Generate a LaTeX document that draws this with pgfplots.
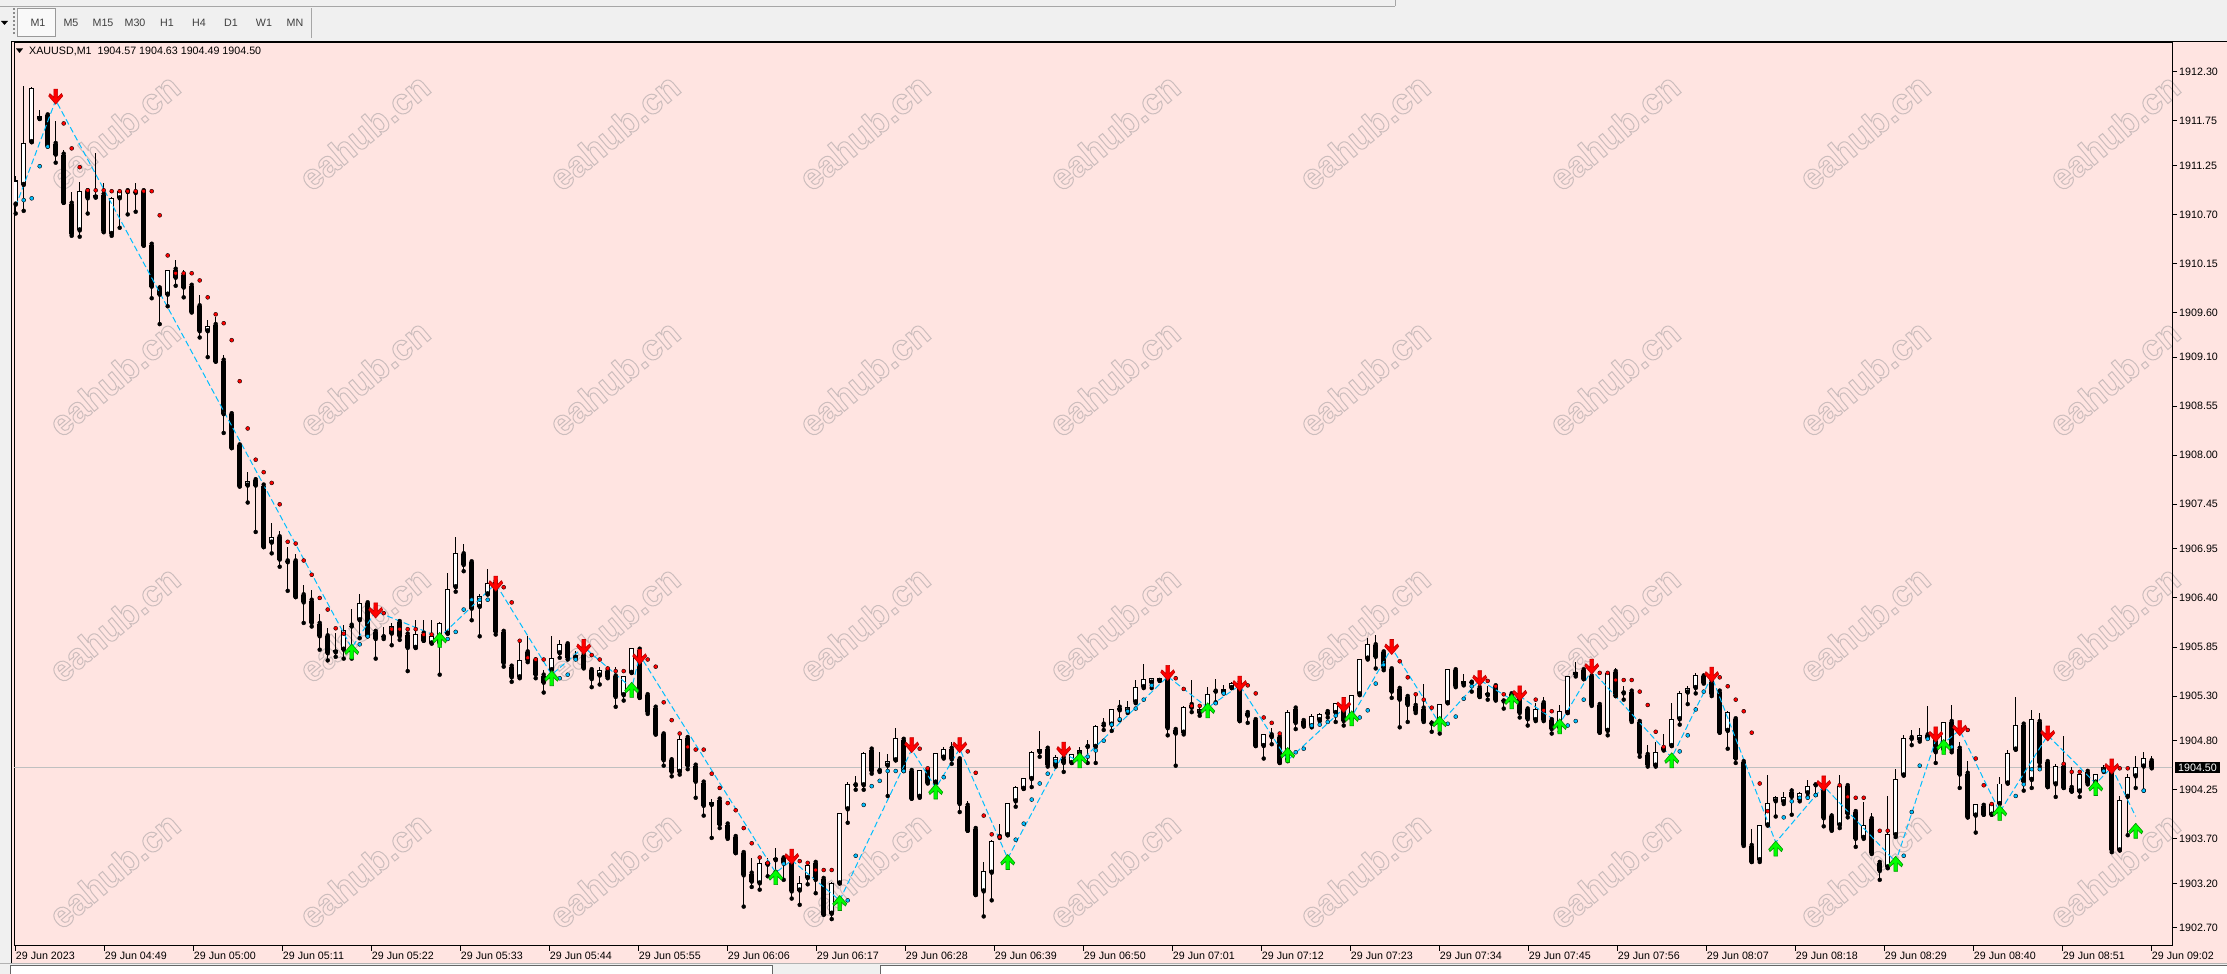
\documentclass[border=0pt]{standalone}
\usepackage{pgfplots}
\pgfplotsset{compat=1.18}
\usepackage{pgfplotstable}
\usepackage{fontspec}
\setmainfont{Liberation Sans}
\definecolor{pinkbg}{RGB}{255,228,225}
\definecolor{winbg}{RGB}{240,240,240}
\definecolor{skyb}{RGB}{0,191,255}
\definecolor{wmcol}{RGB}{255,228,225}
\definecolor{arrgreen}{RGB}{0,255,0}
\definecolor{arrgreend}{RGB}{0,150,0}
\definecolor{arrred}{RGB}{255,0,0}
\definecolor{arrredd}{RGB}{190,0,0}
\definecolor{bidline}{RGB}{192,192,192}
\newcommand\lblfont{\fontsize{10.7}{12.8}\selectfont}
\newcommand\wmtext{\special{pdf:literal direct 1 Tr 1 w 0.80 0.74 0.74 RG}eahub.cn\special{pdf:literal direct 0 Tr}}

\pgfdeclareplotmark{dnarr}{%
 \pgfpathmoveto{\pgfqpoint{-1.9pt}{7.5pt}}%
 \pgfpathlineto{\pgfqpoint{1.9pt}{7.5pt}}%
 \pgfpathlineto{\pgfqpoint{1.9pt}{-0.6pt}}%
 \pgfpathlineto{\pgfqpoint{5.8pt}{3pt}}%
 \pgfpathlineto{\pgfqpoint{7pt}{0.6pt}}%
 \pgfpathlineto{\pgfqpoint{0pt}{-7.5pt}}%
 \pgfpathlineto{\pgfqpoint{-7pt}{0.6pt}}%
 \pgfpathlineto{\pgfqpoint{-5.8pt}{3pt}}%
 \pgfpathlineto{\pgfqpoint{-1.9pt}{-0.6pt}}%
 \pgfpathclose
 \pgfusepathqfillstroke}
\pgfdeclareplotmark{uparr}{%
 \pgfpathmoveto{\pgfqpoint{-1.9pt}{-7.5pt}}%
 \pgfpathlineto{\pgfqpoint{1.9pt}{-7.5pt}}%
 \pgfpathlineto{\pgfqpoint{1.9pt}{0.6pt}}%
 \pgfpathlineto{\pgfqpoint{5.8pt}{-3pt}}%
 \pgfpathlineto{\pgfqpoint{7pt}{-0.6pt}}%
 \pgfpathlineto{\pgfqpoint{0pt}{7.5pt}}%
 \pgfpathlineto{\pgfqpoint{-7pt}{-0.6pt}}%
 \pgfpathlineto{\pgfqpoint{-5.8pt}{-3pt}}%
 \pgfpathlineto{\pgfqpoint{-1.9pt}{0.6pt}}%
 \pgfpathclose
 \pgfusepathqfillstroke}

\pgfplotstableread{
i o h l c
0 1910.81 1911.13 1910.71 1911.08
1 1911.03 1912.14 1910.74 1911.50
2 1911.51 1912.13 1911.51 1912.12
3 1911.77 1911.87 1911.77 1911.80
4 1911.81 1911.83 1911.46 1911.47
5 1911.49 1911.75 1911.28 1911.37
6 1911.37 1911.42 1910.83 1910.83
7 1910.82 1910.95 1910.46 1910.48
8 1910.52 1911.06 1910.45 1910.96
9 1910.96 1910.98 1910.71 1910.88
10 1910.89 1911.39 1910.89 1910.92
11 1910.92 1911.05 1910.50 1910.51
12 1910.48 1910.89 1910.46 1910.88
13 1910.88 1910.98 1910.55 1910.96
14 1910.96 1910.96 1910.70 1910.95
15 1910.94 1911.05 1910.73 1910.93
16 1910.96 1910.99 1910.35 1910.35
17 1910.36 1910.37 1909.76 1909.89
18 1909.87 1909.91 1909.47 1909.80
19 1909.80 1910.08 1909.67 1910.08
20 1910.08 1910.19 1909.90 1909.99
21 1910.02 1910.08 1909.77 1909.88
22 1909.90 1909.90 1909.60 1909.61
23 1909.67 1909.80 1909.32 1909.39
24 1909.39 1909.52 1909.10 1909.45
25 1909.46 1909.55 1909.05 1909.05
26 1909.06 1909.12 1908.25 1908.46
27 1908.46 1908.48 1908.08 1908.08
28 1908.11 1908.11 1907.65 1907.65
29 1907.66 1907.81 1907.47 1907.71
30 1907.72 1907.76 1907.14 1907.66
31 1907.66 1907.68 1906.97 1906.97
32 1907.02 1907.24 1906.90 1907.08
33 1907.08 1907.15 1906.75 1906.83
34 1906.81 1906.97 1906.48 1906.80
35 1906.81 1906.89 1906.41 1906.41
36 1906.43 1906.55 1906.12 1906.35
37 1906.37 1906.49 1906.08 1906.12
38 1906.11 1906.22 1905.82 1905.97
39 1905.97 1906.06 1905.70 1905.78
40 1905.79 1906.01 1905.74 1905.82
41 1905.82 1906.10 1905.72 1906.04
42 1906.09 1906.28 1905.72 1906.08
43 1906.15 1906.44 1905.95 1906.34
44 1906.34 1906.36 1905.97 1905.97
45 1906.02 1906.04 1905.72 1905.94
46 1905.96 1906.07 1905.94 1905.96
47 1906.00 1906.12 1905.87 1906.09
48 1906.13 1906.15 1905.93 1905.97
49 1905.99 1905.99 1905.58 1905.84
50 1905.84 1906.15 1905.84 1906.00
51 1906.00 1906.15 1905.92 1905.92
52 1905.89 1906.15 1905.89 1905.97
53 1905.89 1906.13 1905.54 1906.12
54 1906.00 1906.68 1906.00 1906.50
55 1906.52 1907.08 1906.47 1906.90
56 1906.89 1907.00 1906.70 1906.77
57 1906.80 1906.80 1906.15 1906.28
58 1906.30 1906.45 1905.97 1906.42
59 1906.44 1906.73 1906.44 1906.57
60 1906.58 1906.61 1905.99 1906.02
61 1906.02 1906.02 1905.63 1905.67
62 1905.63 1905.63 1905.46 1905.51
63 1905.51 1905.91 1905.50 1905.71
64 1905.79 1905.97 1905.68 1905.70
65 1905.70 1905.72 1905.50 1905.54
66 1905.53 1905.59 1905.34 1905.45
67 1905.59 1905.97 1905.55 1905.73
68 1905.78 1905.93 1905.73 1905.88
69 1905.88 1905.89 1905.71 1905.73
70 1905.73 1905.80 1905.72 1905.76
71 1905.76 1905.85 1905.61 1905.62
72 1905.59 1905.59 1905.40 1905.49
73 1905.53 1905.63 1905.43 1905.59
74 1905.58 1905.60 1905.50 1905.51
75 1905.52 1905.63 1905.18 1905.29
76 1905.31 1905.53 1905.25 1905.53
77 1905.56 1905.84 1905.56 1905.84
78 1905.82 1905.83 1905.28 1905.28
79 1905.31 1905.33 1905.10 1905.12
80 1905.17 1905.19 1904.87 1904.87
81 1904.87 1904.89 1904.52 1904.58
82 1904.58 1904.62 1904.40 1904.45
83 1904.45 1904.85 1904.42 1904.82
84 1904.83 1904.85 1904.48 1904.52
85 1904.52 1904.52 1904.16 1904.34
86 1904.33 1904.33 1903.96 1904.07
87 1904.08 1904.15 1903.71 1904.11
88 1904.14 1904.14 1903.82 1903.86
89 1903.86 1903.87 1903.70 1903.71
90 1903.72 1903.72 1903.54 1903.54
91 1903.54 1903.56 1902.94 1903.29
92 1903.31 1903.48 1903.16 1903.22
93 1903.20 1903.48 1903.13 1903.43
94 1903.41 1903.48 1903.28 1903.44
95 1903.46 1903.60 1903.33 1903.49
96 1903.48 1903.51 1903.24 1903.43
97 1903.43 1903.43 1903.03 1903.11
98 1903.12 1903.28 1902.96 1903.21
99 1903.26 1903.43 1903.19 1903.41
100 1903.43 1903.44 1903.09 1903.24
101 1903.25 1903.25 1902.85 1902.85
102 1902.86 1903.22 1902.80 1903.21
103 1903.20 1903.99 1903.20 1903.99
104 1904.03 1904.34 1903.88 1904.31
105 1904.30 1904.40 1904.25 1904.30
106 1904.30 1904.67 1904.25 1904.66
107 1904.70 1904.70 1904.43 1904.46
108 1904.46 1904.67 1904.45 1904.46
109 1904.52 1904.65 1904.18 1904.57
110 1904.58 1904.94 1904.58 1904.83
111 1904.81 1904.81 1904.46 1904.46
112 1904.46 1904.46 1904.15 1904.15
113 1904.17 1904.47 1904.16 1904.47
114 1904.47 1904.49 1904.32 1904.33
115 1904.33 1904.66 1904.32 1904.66
116 1904.61 1904.73 1904.60 1904.71
117 1904.71 1904.79 1904.54 1904.59
118 1904.59 1904.59 1904.00 1904.09
119 1904.07 1904.12 1903.79 1903.79
120 1903.81 1903.84 1903.07 1903.07
121 1903.11 1903.44 1902.83 1903.34
122 1903.32 1903.69 1903.01 1903.67
123 1903.72 1903.87 1903.71 1903.72
124 1903.74 1904.10 1903.74 1904.10
125 1904.12 1904.29 1904.06 1904.28
126 1904.26 1904.38 1904.26 1904.38
127 1904.37 1904.68 1904.28 1904.67
128 1904.67 1904.91 1904.62 1904.71
129 1904.71 1904.71 1904.51 1904.53
130 1904.52 1904.64 1904.51 1904.62
131 1904.60 1904.62 1904.45 1904.55
132 1904.55 1904.65 1904.55 1904.65
133 1904.65 1904.73 1904.64 1904.70
134 1904.73 1904.81 1904.55 1904.72
135 1904.73 1904.98 1904.55 1904.97
136 1904.98 1905.05 1904.92 1904.97
137 1904.98 1905.16 1904.91 1905.16
138 1905.17 1905.26 1905.03 1905.14
139 1905.13 1905.24 1905.11 1905.18
140 1905.23 1905.48 1905.22 1905.40
141 1905.40 1905.66 1905.39 1905.49
142 1905.45 1905.50 1905.39 1905.50
143 1905.47 1905.50 1905.47 1905.50
144 1905.50 1905.52 1904.86 1904.94
145 1904.92 1904.92 1904.52 1904.88
146 1904.89 1905.19 1904.87 1905.18
147 1905.20 1905.48 1905.12 1905.17
148 1905.11 1905.20 1905.08 1905.16
149 1905.15 1905.40 1905.15 1905.32
150 1905.35 1905.49 1905.23 1905.35
151 1905.34 1905.42 1905.33 1905.38
152 1905.39 1905.46 1905.39 1905.45
153 1905.45 1905.48 1905.02 1905.02
154 1905.11 1905.13 1905.00 1905.08
155 1905.03 1905.03 1904.74 1904.74
156 1904.74 1904.87 1904.60 1904.87
157 1904.86 1904.94 1904.76 1904.84
158 1904.84 1904.84 1904.55 1904.55
159 1904.58 1905.14 1904.57 1905.12
160 1905.16 1905.16 1904.93 1905.00
161 1905.02 1905.02 1904.96 1904.96
162 1904.96 1905.10 1904.95 1905.08
163 1905.03 1905.11 1905.02 1905.10
164 1905.12 1905.16 1905.06 1905.10
165 1905.11 1905.22 1905.01 1905.22
166 1905.15 1905.26 1904.97 1905.02
167 1905.07 1905.31 1905.04 1905.31
168 1905.32 1905.72 1905.31 1905.72
169 1905.72 1905.95 1905.71 1905.88
170 1905.87 1905.99 1905.61 1905.74
171 1905.79 1905.79 1905.59 1905.61
172 1905.60 1905.60 1905.28 1905.35
173 1905.38 1905.38 1904.95 1905.26
174 1905.29 1905.29 1905.01 1905.20
175 1905.19 1905.34 1905.11 1905.13
176 1905.16 1905.44 1905.01 1905.02
177 1904.99 1905.03 1904.90 1904.98
178 1905.00 1905.21 1904.88 1905.21
179 1905.22 1905.60 1905.22 1905.60
180 1905.59 1905.60 1905.40 1905.41
181 1905.43 1905.55 1905.42 1905.47
182 1905.45 1905.48 1905.35 1905.45
183 1905.39 1905.46 1905.29 1905.29
184 1905.31 1905.41 1905.26 1905.33
185 1905.41 1905.42 1905.25 1905.26
186 1905.24 1905.26 1905.16 1905.24
187 1905.32 1905.33 1905.24 1905.30
188 1905.31 1905.36 1905.06 1905.11
189 1905.15 1905.16 1904.97 1905.04
190 1905.03 1905.22 1905.02 1905.16
191 1905.22 1905.29 1905.02 1905.03
192 1905.03 1905.03 1904.88 1904.93
193 1904.94 1905.20 1904.90 1905.13
194 1905.11 1905.53 1905.11 1905.53
195 1905.54 1905.68 1905.52 1905.57
196 1905.59 1905.62 1905.49 1905.49
197 1905.52 1905.59 1905.19 1905.20
198 1905.20 1905.20 1904.89 1904.89
199 1904.91 1905.56 1904.86 1905.56
200 1905.57 1905.62 1905.30 1905.30
201 1905.33 1905.41 1905.26 1905.33
202 1905.35 1905.36 1905.01 1905.02
203 1905.01 1905.03 1904.62 1904.66
204 1904.64 1904.75 1904.51 1904.53
205 1904.52 1904.78 1904.51 1904.67
206 1904.70 1904.88 1904.69 1904.73
207 1904.74 1905.22 1904.74 1905.04
208 1905.04 1905.36 1904.98 1905.33
209 1905.34 1905.41 1905.21 1905.39
210 1905.39 1905.56 1905.33 1905.54
211 1905.52 1905.54 1905.44 1905.45
212 1905.46 1905.46 1905.30 1905.32
213 1905.35 1905.35 1904.89 1904.89
214 1904.91 1905.13 1904.71 1905.12
215 1905.04 1905.07 1904.55 1904.60
216 1904.56 1904.56 1903.62 1903.63
217 1903.62 1903.81 1903.44 1903.44
218 1903.46 1903.86 1903.44 1903.85
219 1903.85 1904.41 1903.85 1904.10
220 1904.12 1904.18 1903.95 1904.17
221 1904.11 1904.23 1904.09 1904.17
222 1904.23 1904.27 1903.97 1904.17
223 1904.14 1904.22 1904.12 1904.21
224 1904.21 1904.36 1904.17 1904.29
225 1904.30 1904.30 1904.19 1904.29
226 1904.27 1904.27 1903.84 1903.93
227 1903.95 1903.99 1903.79 1903.80
228 1903.85 1904.42 1903.82 1904.29
229 1904.29 1904.29 1903.94 1903.98
230 1904.00 1904.00 1903.61 1903.70
231 1903.71 1904.11 1903.70 1903.86
232 1903.92 1903.99 1903.53 1903.54
233 1903.43 1903.43 1903.24 1903.34
234 1903.38 1904.18 1903.37 1903.75
235 1903.74 1904.48 1903.72 1904.37
236 1904.41 1904.86 1904.41 1904.83
237 1904.83 1904.92 1904.75 1904.82
238 1904.81 1904.94 1904.79 1904.86
239 1904.86 1905.19 1904.83 1904.83
240 1904.83 1904.92 1904.55 1904.67
241 1904.70 1905.01 1904.70 1905.01
242 1905.01 1905.20 1904.67 1904.69
243 1904.71 1904.79 1904.27 1904.42
244 1904.43 1904.57 1903.94 1903.94
245 1903.96 1904.09 1903.77 1904.09
246 1904.07 1904.07 1903.97 1903.97
247 1903.97 1904.11 1903.97 1904.09
248 1904.09 1904.39 1904.00 1904.32
249 1904.32 1904.70 1904.32 1904.66
250 1904.70 1905.29 1904.70 1904.98
251 1904.98 1905.01 1904.24 1904.34
252 1904.36 1905.14 1904.27 1905.04
253 1905.01 1905.11 1904.51 1904.55
254 1904.56 1904.56 1904.28 1904.28
255 1904.31 1904.54 1904.17 1904.52
256 1904.52 1904.85 1904.27 1904.27
257 1904.27 1904.51 1904.23 1904.23
258 1904.23 1904.47 1904.17 1904.43
259 1904.45 1904.47 1904.31 1904.32
260 1904.33 1904.43 1904.33 1904.43
261 1904.46 1904.53 1904.45 1904.50
262 1904.47 1904.49 1903.55 1903.57
263 1903.57 1904.18 1903.57 1904.14
264 1904.17 1904.43 1903.74 1904.39
265 1904.40 1904.63 1904.27 1904.50
266 1904.51 1904.67 1904.24 1904.61
267 1904.57 1904.63 1904.49 1904.50
}\candles

\begin{document}
\begin{tikzpicture}
\begin{scope}[x=1pt,y=1pt]
\useasboundingbox (0,0) rectangle (2227,974);
\fill[winbg] (0,0) rectangle (2227,974);
% top toolbar strip
\draw[black!35, line width=1pt] (0,967.5) -- (1395,967.5);
\draw[black!35, line width=1pt] (1395,967.5) -- (1395,974);
% timeframe panel
\foreach \yy in {940,944,...,964} \fill[black!45] (13,\yy) rectangle (14.5,\yy+1.5);
\filldraw[fill=white!60!winbg, draw=black!40] (17.5,937.5) rectangle (55.5,965.5);
\draw[black!35] (311.5,936) -- (311.5,966);
\node[font=\lblfont, text=black!75] at (38,951) {M1};
\node[font=\lblfont, text=black!75] at (71,951) {M5};
\node[font=\lblfont, text=black!75] at (103,951) {M15};
\node[font=\lblfont, text=black!75] at (135,951) {M30};
\node[font=\lblfont, text=black!75] at (167,951) {H1};
\node[font=\lblfont, text=black!75] at (199,951) {H4};
\node[font=\lblfont, text=black!75] at (231,951) {D1};
\node[font=\lblfont, text=black!75] at (264,951) {W1};
\node[font=\lblfont, text=black!75] at (295,951) {MN};
\fill[black] (1,953) -- (8,953) -- (4.5,949) -- cycle;
% chart window
\fill[pinkbg] (11,11) rectangle (2227,933);
\draw[black, line width=1pt] (11.5,11) -- (11.5,932.5) -- (2227,932.5);
% status bar
\draw[black!30] (0,10.5) -- (2227,10.5);
\filldraw[fill=white, draw=black!60] (10.5,-2) rectangle (772,8.5);
\filldraw[fill=white, draw=black!60] (880,-2) rectangle (2229,8.5);
% watermarks
\foreach \xx in {114,364,614,864,1114,1364,1614,1864,2114}
  \foreach \yy in {842,596,350,104}
    \node[rotate=40, text=wmcol, font=\bfseries\fontsize{36}{40}\selectfont] at (\xx,\yy) {\wmtext};
% title
\fill[black] (16,925.5) -- (23,925.5) -- (19.5,921) -- cycle;
\node[anchor=west, inner sep=0pt, font=\lblfont] at (29,923) {XAUUSD,M1\ \ 1904.57 1904.63 1904.49 1904.50};
\end{scope}

\begin{axis}[
  at={(14pt,28pt)}, anchor=south west,
  width=2158pt, height=903pt, scale only axis,
  xmin=-0.2125, xmax=269.5375, ymin=1902.4982, ymax=1912.6216,
  axis line style={black, line width=1pt},
  every tick/.style={black, line width=1pt},
  tick align=outside, major tick length=5pt,
  xtick pos=left, ytick pos=right, yticklabel pos=right,
  xtick={0,11.125,22.25,33.375,44.5,55.625,66.75,77.875,89,100.125,111.25,122.375,133.5,144.625,155.75,166.875,178,189.125,200.25,211.375,222.5,233.625,244.75,255.875,267},
  xticklabels={29 Jun 2023,29 Jun 04:49,29 Jun 05:00,29 Jun 05:11,29 Jun 05:22,29 Jun 05:33,29 Jun 05:44,29 Jun 05:55,29 Jun 06:06,29 Jun 06:17,29 Jun 06:28,29 Jun 06:39,29 Jun 06:50,29 Jun 07:01,29 Jun 07:12,29 Jun 07:23,29 Jun 07:34,29 Jun 07:45,29 Jun 07:56,29 Jun 08:07,29 Jun 08:18,29 Jun 08:29,29 Jun 08:40,29 Jun 08:51,29 Jun 09:02},
  ytick={1912.30,1911.75,1911.25,1910.70,1910.15,1909.60,1909.10,1908.55,1908.00,1907.45,1906.95,1906.40,1905.85,1905.30,1904.80,1904.25,1903.70,1903.20,1902.70},
  yticklabel style={font=\lblfont, anchor=west, inner sep=0pt, xshift=2pt,
    /pgf/number format/fixed, /pgf/number format/fixed zerofill,
    /pgf/number format/precision=2, /pgf/number format/1000 sep={},
    /pgf/number format/assume math mode=true},
  xticklabel style={font=\lblfont, anchor=north west, inner sep=0pt, xshift=0pt, yshift=-1pt},
  clip=true,
]
% bid line
\addplot[forget plot, color=bidline, line width=1pt, mark=none] coordinates {(-1,1904.50) (271,1904.50)};
% wicks
\addplot[forget plot, only marks, mark=none, error bars/.cd, y dir=plus, y explicit, error mark=none,
  error bar style={draw=black, line width=1pt}]
  table[x=i, y=l, y error expr=\thisrow{h}-\thisrow{l}] {\candles};
% bodies (outline / bear fill)
\addplot[forget plot, only marks, mark=none, error bars/.cd, y dir=plus, y explicit, error mark=none,
  error bar style={draw=black, line width=5pt}]
  table[x=i, y expr={min(\thisrow{o},\thisrow{c})}, y error expr={max(abs(\thisrow{c}-\thisrow{o}),0.0112)}] {\candles};
% bull body inner fill
\addplot[forget plot, only marks, mark=none, error bars/.cd, y dir=plus, y explicit, error mark=none,
  error bar style={draw=white, line width=3pt}]
  table[x=i, y expr={\thisrow{o}+0.0112}, y error expr={max(\thisrow{c}-\thisrow{o}-0.0224,0)}] {\candles};
% zigzag
\addplot[forget plot, color=skyb, line width=1pt, dash pattern=on 6pt off 3pt, mark=none] coordinates {
(0,1910.79) (5,1911.98) (42,1905.84) (45,1906.25) (53,1905.96) (60,1906.56) (67,1905.54) (71,1905.85)
(77,1905.39) (78,1905.76) (95,1903.32) (97,1903.46) (103,1903.01) (112,1904.70) (115,1904.27) (118,1904.71)
(124,1903.48) (131,1904.66) (133,1904.56) (144,1905.52) (149,1905.17) (153,1905.42) (159,1904.58) (166,1905.16)
(167,1905.07) (172,1905.84) (178,1904.99) (183,1905.48) (187,1905.26) (188,1905.30) (193,1904.99) (197,1905.59)
(207,1904.61) (212,1905.52) (220,1903.66) (226,1904.29) (235,1903.44) (240,1904.81) (241,1904.77) (243,1904.92)
(248,1904.00) (254,1904.86) (260,1904.32) (262,1904.50) (265,1903.95)};
% red dots
\addplot[forget plot, only marks, mark=*, mark size=2pt, mark options={draw=none, fill=red}] coordinates {
(6,1911.72) (7,1911.44) (8,1911.23) (9,1910.97) (10,1910.97) (11,1910.97) (12,1910.96) (13,1910.96) (14,1910.96)
(15,1910.96) (16,1910.96) (17,1910.96) (18,1910.69) (19,1910.24) (20,1910.04) (21,1910.04) (22,1910.04) (23,1909.96)
(24,1909.77) (25,1909.58) (26,1909.48) (27,1909.29) (28,1908.83) (29,1908.30) (30,1907.95) (31,1907.81) (32,1907.69)
(33,1907.45) (34,1907.03) (35,1907.01) (36,1906.82) (37,1906.66) (38,1906.40) (39,1906.27) (40,1906.06) (41,1906.00)
(46,1906.23) (47,1906.05) (48,1906.05) (49,1906.05) (50,1906.05) (51,1905.99) (52,1905.99) (61,1906.52) (62,1906.35)
(63,1905.92) (64,1905.73) (65,1905.71) (66,1905.71) (72,1905.76) (73,1905.71) (74,1905.61) (75,1905.58) (76,1905.58)
(79,1905.71) (80,1905.63) (81,1905.23) (82,1905.03) (83,1904.88) (84,1904.73) (85,1904.70) (86,1904.70) (87,1904.43)
(88,1904.27) (89,1904.10) (90,1904.02) (91,1903.82) (92,1903.65) (93,1903.49) (94,1903.43) (98,1903.45) (99,1903.43)
(100,1903.35) (101,1903.35) (102,1903.35) (113,1904.71) (114,1904.49) (119,1904.68) (120,1904.44) (121,1903.96)
(122,1903.75) (123,1903.72) (145,1905.50) (146,1905.38) (147,1905.19) (148,1905.19) (154,1905.42) (155,1905.33)
(156,1905.06) (157,1905.00) (158,1904.88) (173,1905.69) (174,1905.51) (175,1905.32) (176,1905.26) (177,1905.17)
(184,1905.47) (185,1905.41) (186,1905.32) (190,1905.26) (191,1905.14) (192,1905.13) (198,1905.56) (199,1905.56)
(200,1905.48) (201,1905.48) (202,1905.48) (203,1905.35) (204,1905.20) (205,1904.90) (206,1904.73) (213,1905.51)
(214,1905.41) (215,1905.26) (216,1905.13) (217,1904.89) (218,1904.32) (219,1904.01) (228,1904.30) (229,1904.17)
(230,1904.16) (231,1904.16) (233,1903.79) (234,1903.79) (244,1904.92) (245,1904.60) (246,1904.30) (247,1904.09)
(256,1904.54) (257,1904.45) (258,1904.45) (263,1904.49) (264,1904.49)};
% blue dots
\addplot[forget plot, only marks, mark=*, mark size=2pt, mark options={draw=none, fill=skyb}] coordinates {
(1,1910.86) (2,1910.88) (3,1911.24) (4,1911.46) (43,1905.88) (44,1905.97) (54,1905.94) (55,1906.02) (56,1906.27)
(57,1906.38) (58,1906.38) (59,1906.38) (68,1905.50) (69,1905.54) (70,1905.71) (96,1903.42) (104,1903.01) (105,1903.51)
(106,1904.08) (107,1904.29) (108,1904.35) (109,1904.46) (110,1904.46) (111,1904.46) (116,1904.39) (125,1903.69)
(126,1903.87) (127,1904.14) (128,1904.32) (129,1904.43) (130,1904.57) (134,1904.62) (135,1904.69) (136,1904.80)
(137,1904.98) (138,1905.04) (139,1905.13) (140,1905.16) (141,1905.26) (142,1905.42) (150,1905.22) (151,1905.33)
(160,1904.67) (161,1904.71) (162,1904.97) (163,1904.98) (164,1905.01) (165,1905.08) (168,1905.06) (169,1905.14)
(170,1905.44) (171,1905.65) (179,1904.99) (180,1905.07) (181,1905.27) (182,1905.41) (194,1904.97) (195,1905.02)
(196,1905.26) (208,1904.68) (209,1904.86) (210,1905.15) (211,1905.35) (221,1903.94) (222,1904.12) (223,1904.16)
(224,1904.16) (225,1904.19) (236,1903.51) (237,1904.00) (238,1904.52) (239,1904.82) (242,1904.73) (250,1904.18)
(251,1904.31) (252,1904.48) (253,1904.48) (261,1904.46) (266,1904.24)};
% red arrows
\addplot[forget plot, only marks, mark=dnarr, mark options={fill=arrred, draw=arrredd, line width=0.6pt, solid}] coordinates {
(5,1912.02) (45,1906.26) (60,1906.56) (71,1905.85) (78,1905.74) (97,1903.50) (112,1904.75) (118,1904.75)
(131,1904.70) (144,1905.56) (153,1905.44) (166,1905.20) (172,1905.85) (183,1905.50) (188,1905.33) (197,1905.63)
(212,1905.54) (226,1904.32) (240,1904.87) (243,1904.94) (254,1904.88) (262,1904.51)};
% green arrows
\addplot[forget plot, only marks, mark=uparr, mark options={fill=arrgreen, draw=arrgreend, line width=0.6pt, solid}] coordinates {
(42,1905.80) (53,1905.93) (67,1905.50) (77,1905.37) (95,1903.27) (103,1902.98) (115,1904.23) (124,1903.44)
(133,1904.58) (149,1905.14) (159,1904.64) (167,1905.05) (178,1904.99) (187,1905.24) (193,1904.96) (207,1904.58)
(220,1903.59) (235,1903.42) (241,1904.73) (248,1903.99) (260,1904.27) (265,1903.79)};
\end{axis}
% current price label
\node[fill=black, text=white, font=\lblfont, anchor=west, inner xsep=3pt, inner ysep=1.6pt] at (2175pt,206.6pt) {1904.50};
\end{tikzpicture}
\end{document}
